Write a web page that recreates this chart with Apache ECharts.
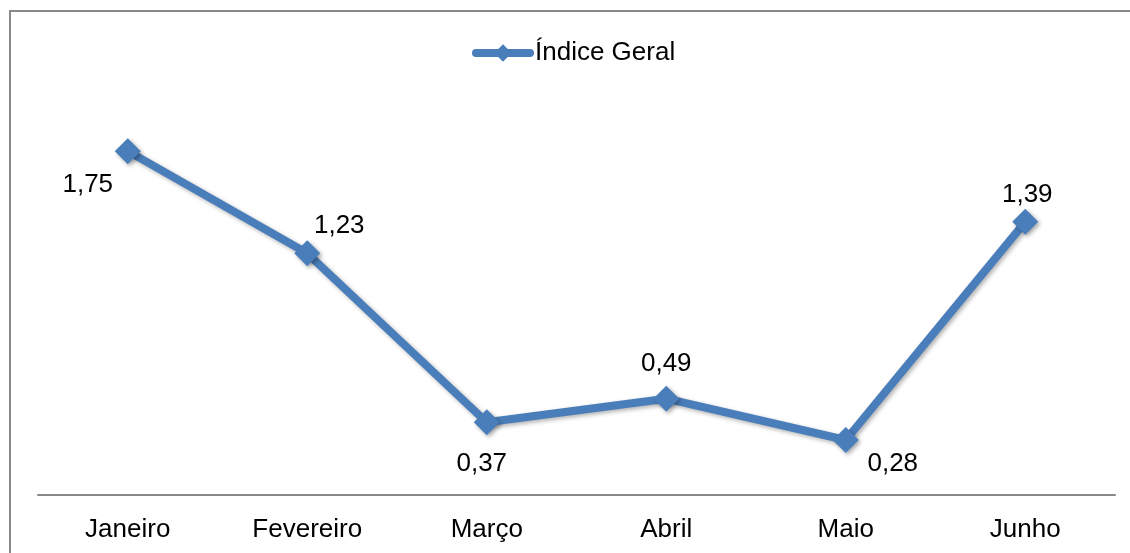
<!DOCTYPE html>
<html>
<head>
<meta charset="utf-8">
<script src="https://cdn.jsdelivr.net/npm/echarts@6/dist/echarts.min.js"></script>
<style>
  html, body { margin: 0; padding: 0; background: #fff; }
  #chart { width: 1130px; height: 553px; }
</style>
</head>
<body>
<div id="chart"></div>
<script>
// data
const months = ['Janeiro', 'Fevereiro', 'Março', 'Abril', 'Maio', 'Junho']
const indiceGeral = [1.75, 1.23, 0.37, 0.49, 0.28, 1.39]
const seriesName = 'Índice Geral'

// where each value label sits relative to its marker (label layout, not data)
const labelOffsets = [[-40, 34], [32, -27], [-5, 42], [0, -35], [47, 24], [2, -27]]

const font = '"Liberation Sans", Arial, sans-serif'
const blue = '#4a7ebb'

const chart = echarts.init(document.getElementById('chart'))

chart.setOption({
  animation: false,
  textStyle: { fontFamily: font },
  graphic: [{
    type: 'rect',
    shape: { x: 10, y: 11, width: 1300, height: 700 },
    style: { fill: 'none', stroke: '#898989', lineWidth: 2 },
    silent: true
  }],
  legend: {
    left: 472,
    top: 40,
    padding: 0,
    itemWidth: 54,
    itemHeight: 22,
    itemGap: 3,
    lineStyle: { width: 8, color: blue, cap: 'round' },
    itemStyle: { color: blue },
    textStyle: { fontSize: 26, color: '#000', fontFamily: font },
    data: [seriesName]
  },
  grid: {
    left: 38,
    right: 15,
    top: 102,
    bottom: 58
  },
  xAxis: {
    type: 'category',
    data: months,
    axisLine: { lineStyle: { color: '#898989', width: 2 } },
    axisTick: { show: false },
    axisLabel: { fontSize: 26, color: '#000', margin: 22, fontFamily: font }
  },
  yAxis: {
    type: 'value',
    min: 0,
    max: 2,
    show: false,
    splitLine: { show: false }
  },
  series: [{
    name: seriesName,
    type: 'line',
    symbol: 'diamond',
    symbolSize: 26,
    lineStyle: {
      color: blue,
      width: 8,
      shadowColor: 'rgba(0,0,0,0.3)',
      shadowBlur: 4,
      shadowOffsetX: 2,
      shadowOffsetY: 2
    },
    itemStyle: {
      color: blue,
      shadowColor: 'rgba(0,0,0,0.35)',
      shadowBlur: 4,
      shadowOffsetX: 2,
      shadowOffsetY: 2
    },
    data: indiceGeral.map((v, i) => ({
      value: v,
      label: {
        show: true,
        position: 'inside',
        offset: labelOffsets[i],
        fontSize: 26,
        color: '#000',
        fontFamily: font,
        formatter: p => p.value.toFixed(2).replace('.', ',')
      }
    }))
  }]
})
</script>
</body>
</html>
